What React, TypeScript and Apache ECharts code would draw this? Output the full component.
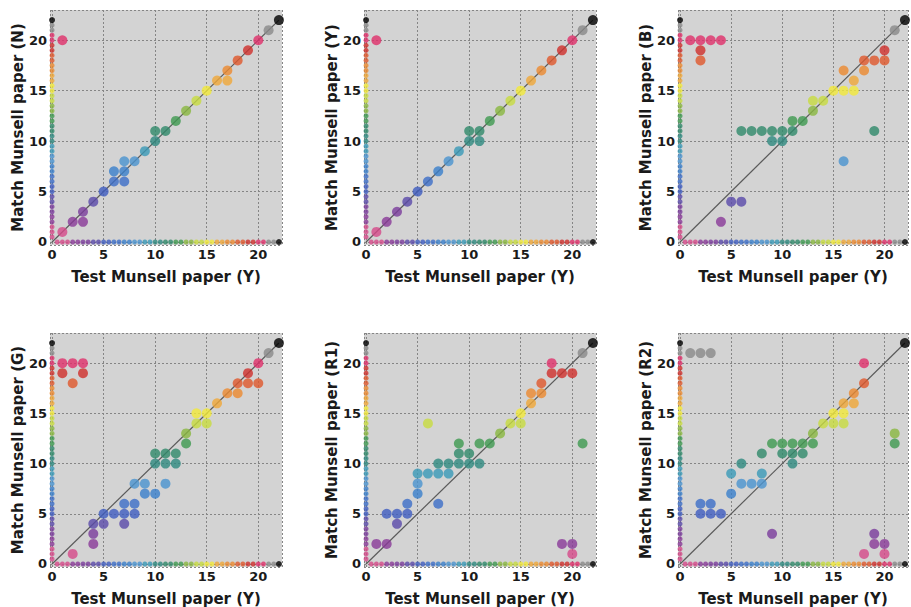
import React, { useEffect, useRef } from 'react';
import * as echarts from 'echarts';

// ---- data ----
const panelNames = ['N', 'Y', 'B', 'G', 'R1', 'R2'];
const xTitle = 'Test Munsell paper (Y)';
const yTitlePrefix = 'Match Munsell paper';
const tickValues = [0, 5, 10, 15, 20];
const keyValues = [0.5, 1, 1.5, 2, 2.5, 3, 3.5, 4, 4.5, 5, 5.5, 6, 6.5, 7, 7.5, 8, 8.5, 9, 9.5, 10, 10.5, 11, 11.5, 12, 12.5, 13, 13.5, 14, 14.5, 15, 15.5, 16, 16.5, 17, 17.5, 18, 18.5, 19, 19.5, 20, 20.5, 21, 21.5, 22];
const paperNumbers = [1, 2, 3, 4, 5, 6, 7, 8, 9, 10, 11, 12, 13, 14, 15, 16, 17, 18, 19, 20, 21, 22];
const paperColors = ['#d64a8a', '#8a3a98', '#7a3c9c', '#5a4aaa', '#3e5cc0', '#3c6ec8', '#3a7fcc', '#4a94cf', '#3a9ab8', '#2e8a80', '#2f8a6a', '#3e9a50', '#8ab840', '#c8dc40', '#f2ea3a', '#f0a838', '#ec8a30', '#e0582c', '#d0302c', '#e0306a', '#8a8a8a', '#000000'];
const diagonal = [0, 22];

const pointsN = [[1, 20], [1, 1], [2, 2], [3, 3], [3, 2], [4, 4], [5, 5], [6, 7], [6, 6], [7, 8], [7, 7], [7, 6], [8, 8], [9, 9], [10, 11], [10, 10], [11, 11], [12, 12], [13, 13], [14, 14], [15, 15], [16, 16], [17, 17], [17, 16], [18, 18], [19, 19], [20, 20], [21, 21], [22, 22]];
const pointsY = [[1, 20], [1, 1], [2, 2], [3, 3], [4, 4], [5, 5], [6, 6], [7, 7], [8, 8], [9, 9], [10, 11], [10, 10], [11, 11], [11, 10], [12, 12], [13, 13], [14, 14], [15, 15], [16, 16], [17, 17], [18, 18], [19, 19], [20, 20], [21, 21], [22, 22]];
const pointsB = [[1, 20], [2, 20], [3, 20], [4, 20], [2, 19], [2, 18], [4, 2], [5, 4], [6, 4], [6, 11], [7, 11], [8, 11], [9, 11], [10, 11], [11, 11], [9, 10], [10, 10], [11, 12], [12, 12], [13, 13], [13, 14], [14, 14], [15, 15], [16, 15], [17, 15], [16, 17], [17, 16], [18, 17], [18, 18], [19, 18], [20, 18], [20, 19], [19, 11], [16, 8], [21, 21], [22, 22]];
const pointsG = [[1, 20], [2, 20], [3, 20], [1, 19], [3, 19], [2, 18], [2, 1], [4, 4], [4, 3], [4, 2], [5, 4], [5, 5], [6, 5], [7, 6], [8, 6], [7, 5], [8, 5], [7, 4], [8, 8], [9, 8], [9, 7], [10, 7], [11, 8], [10, 11], [11, 11], [12, 11], [10, 10], [11, 10], [12, 10], [13, 13], [13, 12], [14, 15], [15, 15], [14, 14], [15, 14], [16, 16], [17, 17], [18, 17], [18, 18], [19, 19], [19, 18], [20, 18], [20, 20], [21, 21], [22, 22]];
const pointsR1 = [[1, 2], [2, 2], [2, 5], [3, 5], [3, 4], [4, 5], [4, 6], [5, 7], [5, 8], [5, 9], [6, 9], [7, 9], [8, 9], [6, 14], [7, 6], [7, 10], [8, 10], [9, 10], [10, 10], [11, 10], [9, 11], [10, 11], [9, 12], [11, 12], [12, 12], [13, 13], [14, 14], [15, 15], [15, 14], [16, 16], [16, 17], [17, 17], [17, 18], [18, 19], [18, 20], [19, 19], [20, 19], [21, 21], [22, 22], [21, 12], [19, 2], [20, 2], [20, 1]];
const pointsR2 = [[1, 21], [2, 21], [3, 21], [18, 20], [18, 18], [17, 17], [17, 16], [16, 16], [15, 15], [16, 15], [15, 14], [16, 14], [14, 14], [13, 13], [9, 12], [10, 12], [11, 12], [12, 12], [13, 12], [8, 11], [10, 11], [11, 11], [12, 11], [11, 10], [6, 10], [5, 9], [8, 9], [6, 8], [7, 8], [8, 8], [5, 7], [2, 6], [3, 6], [2, 5], [3, 5], [4, 5], [9, 3], [21, 13], [21, 12], [19, 3], [19, 2], [20, 2], [18, 1], [20, 1], [22, 22]];
const panelPoints = [pointsN, pointsY, pointsB, pointsG, pointsR1, pointsR2];

function colorOf(v: number): string {
  const idx = paperNumbers.indexOf(v);
  return idx >= 0 ? paperColors[idx] : '#888';
}
function keyColorOf(v: number): string {
  return colorOf(Math.max(1, Math.floor(v)));
}

export default function App() {
  const ref = useRef<HTMLDivElement>(null);
  useEffect(() => {
    if (!ref.current) return;
    const chart = echarts.init(ref.current, undefined, { renderer: 'svg' });
    const lefts = [50, 364, 678];
    const tops = [10, 333];
    const gridW = 232;
    const gridH = 235;
    const font = 'DejaVu Sans';
    const grids: any[] = [];
    const xAxes: any[] = [];
    const yAxes: any[] = [];
    const series: any[] = [];
    const split = { show: true, lineStyle: { color: '#858585', type: [2, 2], width: 1 } };
    const fmt = (v: number) => (tickValues.some((t) => Math.abs(t - v) < 1e-6) ? String(Math.round(v)) : '');
    panelNames.forEach((name, i) => {
      const col = i % 3;
      const row = Math.floor(i / 3);
      grids.push({
        left: lefts[col], top: tops[row], width: gridW, height: gridH,
        show: true, backgroundColor: '#d3d3d3', borderWidth: 0,
      });
      xAxes.push({
        type: 'value', gridIndex: i, min: -0.2, max: 22.3,
        axisLine: { show: false }, axisTick: { show: false }, splitLine: split,
        axisLabel: { formatter: fmt, margin: 3, fontFamily: font, fontWeight: 'bold', fontSize: 13, color: '#1a1a1a' },
        name: xTitle, nameLocation: 'middle', nameGap: 24,
        nameTextStyle: { fontFamily: font, fontWeight: 'bold', fontSize: 15, color: '#1a1a1a' },
      });
      yAxes.push({
        type: 'value', gridIndex: i, min: -0.3, max: 23,
        axisLine: { show: false }, axisTick: { show: false }, splitLine: split,
        axisLabel: { formatter: fmt, margin: 3, fontFamily: font, fontWeight: 'bold', fontSize: 13, color: '#1a1a1a' },
        name: `${yTitlePrefix} (${name})`, nameLocation: 'middle', nameGap: 25,
        nameTextStyle: { fontFamily: font, fontWeight: 'bold', fontSize: 15, color: '#1a1a1a' },
      });
      series.push({
        type: 'line', xAxisIndex: i, yAxisIndex: i, symbol: 'none', silent: true, z: 2,
        lineStyle: { color: '#5a5a5a', width: 1.2 },
        data: [[diagonal[0], diagonal[0]], [diagonal[1], diagonal[1]]],
      });
      series.push({
        type: 'scatter', xAxisIndex: i, yAxisIndex: i, z: 3, clip: false,
        symbolSize: (v: number[]) => (Math.max(v[0], v[1]) >= 22 ? 6 : 5),
        itemStyle: { color: (p: any) => keyColorOf(Math.max(p.value[0], p.value[1])) },
        data: keyValues.map((v) => [v, 0]).concat(keyValues.map((v) => [0, v])),
      });
      series.push({
        type: 'scatter', xAxisIndex: i, yAxisIndex: i, z: 4, clip: false,
        symbolSize: 10,
        itemStyle: { color: (p: any) => colorOf(p.value[1]) },
        data: panelPoints[i],
      });
    });
    chart.setOption({
      animation: false,
      backgroundColor: '#ffffff',
      grid: grids, xAxis: xAxes, yAxis: yAxes, series,
    });
    return () => chart.dispose();
  }, []);
  return <div ref={ref} style={{ position: 'fixed', left: 0, top: 0, width: 911, height: 607 }} />;
}
